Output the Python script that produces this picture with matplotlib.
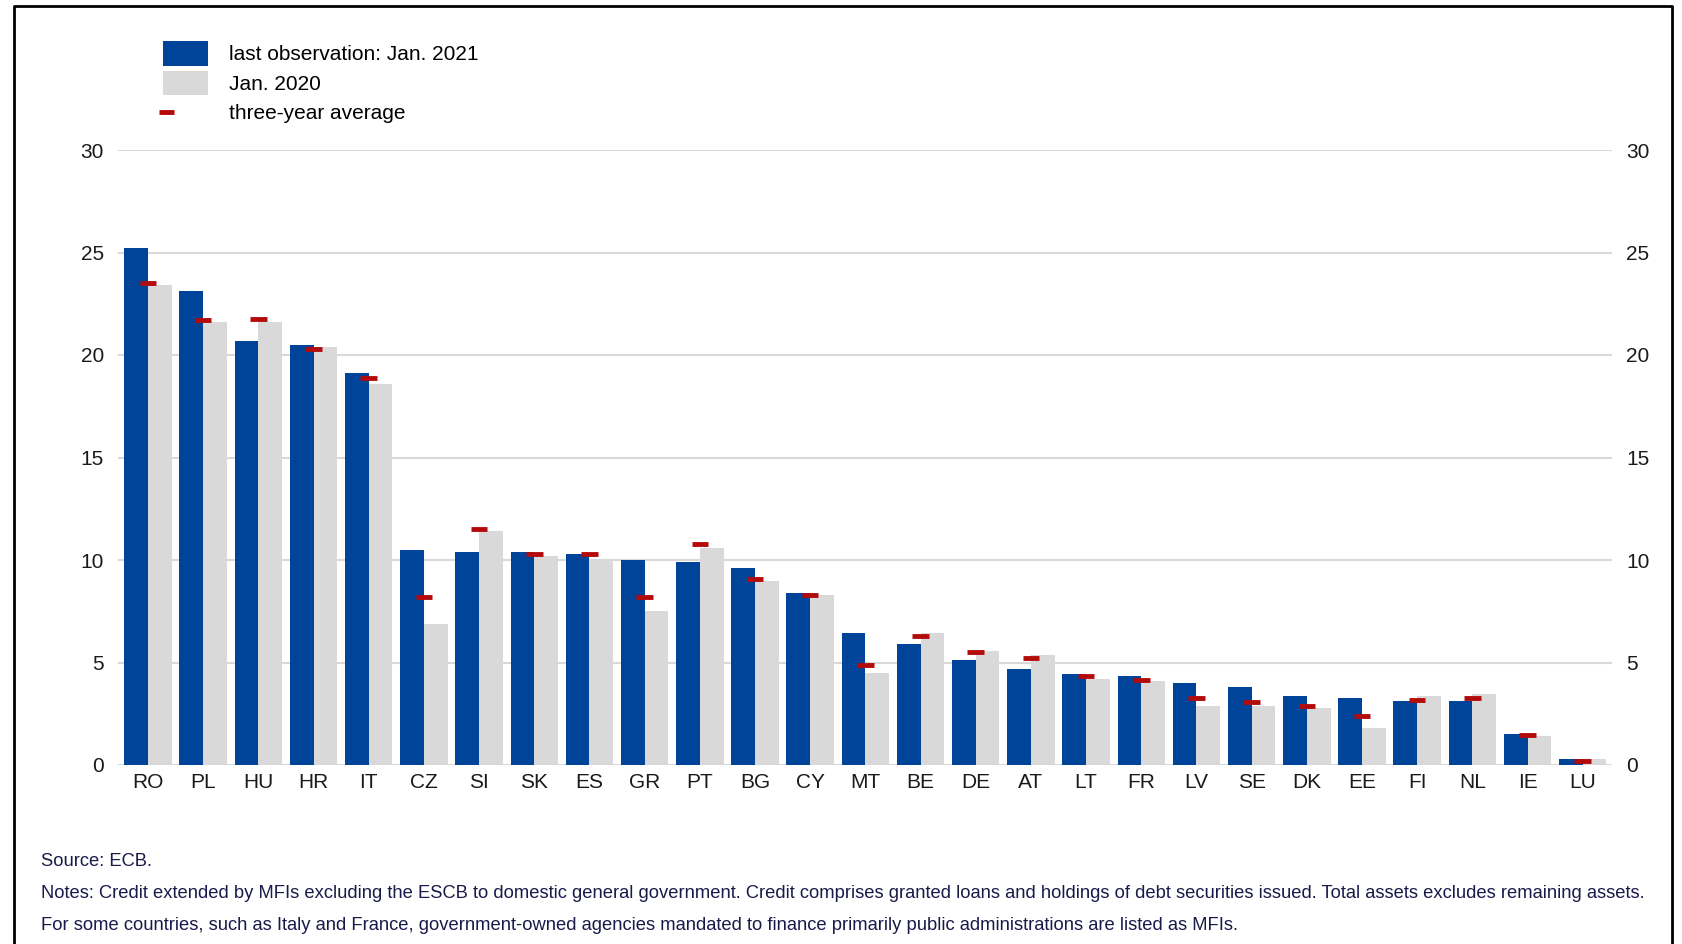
import matplotlib
matplotlib.use("Agg")
import matplotlib.pyplot as plt
from matplotlib.patches import Patch
from matplotlib.lines import Line2D
from matplotlib.legend_handler import HandlerBase
import numpy as np

plt.rcParams['font.family'] = ['Liberation Sans', 'DejaVu Sans']

# credit to government as % of total assets, by country
countries = ["RO", "PL", "HU", "HR", "IT", "CZ", "SI", "SK", "ES", "GR", "PT", "BG", "CY", "MT",
             "BE", "DE", "AT", "LT", "FR", "LV", "SE", "DK", "EE", "FI", "NL", "IE", "LU"]
last_obs = [25.2, 23.1, 20.7, 20.5, 19.1, 10.5, 10.4, 10.4, 10.3, 10.0, 9.9, 9.6, 8.4, 6.45,
            5.9, 5.1, 4.7, 4.45, 4.35, 4.0, 3.8, 3.35, 3.25, 3.1, 3.1, 1.5, 0.3]
jan_2020 = [23.4, 21.6, 21.6, 20.4, 18.6, 6.9, 11.4, 10.2, 10.0, 7.5, 10.6, 9.0, 8.3, 4.5,
            6.45, 5.55, 5.35, 4.2, 4.1, 2.9, 2.9, 2.8, 1.8, 3.35, 3.45, 1.4, 0.3]
three_year_avg = [23.5, 21.7, 21.75, 20.3, 18.9, 8.2, 11.5, 10.3, 10.3, 8.2, 10.8, 9.05, 8.3, 4.9,
                  6.3, 5.5, 5.2, 4.35, 4.15, 3.25, 3.05, 2.9, 2.4, 3.15, 3.25, 1.45, 0.2]
yticks = [0, 5, 10, 15, 20, 25, 30]

blue = "#00449a"
grey = "#d9d9d9"
red = "#b30a0a"


class ShortDash(HandlerBase):
    # short red dash sitting at the left of the legend handle box
    def create_artists(self, legend, orig_handle, xdescent, ydescent, width, height, fontsize, trans):
        y = height / 2 - ydescent
        line = Line2D([-xdescent - 3, -xdescent + 8], [y, y], color=red, linewidth=3.5,
                      solid_capstyle='butt', transform=trans)
        return [line]


fig = plt.figure(figsize=(16.83, 9.44), dpi=100)
ax = fig.add_axes([118 / 1683, 179 / 944, (1612 - 118) / 1683, (765 - 150) / 944])

x = np.arange(len(countries))
w = 0.43
ax.bar(x - w / 2, last_obs, width=w, color=blue, zorder=2)
ax.bar(x + w / 2, jan_2020, width=w, color=grey, zorder=2)
ax.errorbar(x, three_year_avg, xerr=0.15, fmt='none', ecolor=red, elinewidth=3.5, capsize=0, zorder=3)

ax.set_xlim(-0.544, 26.53)
ax.set_ylim(0, 30)
ax.set_yticks(yticks)
ax.set_xticks(x)
ax.set_xticklabels(countries)
ax.grid(axis='y', color=grey, linewidth=1.5, zorder=0)
ax.set_axisbelow(True)
for s in ax.spines.values():
    s.set_visible(False)
ax.tick_params(axis='both', length=0, labelsize=15, colors='#1a1a1a')
ax.tick_params(axis='y', pad=10)
ax.tick_params(axis='x', pad=6)

ax2 = ax.twinx()
ax2.set_ylim(0, 30)
ax2.set_yticks(yticks)
for s in ax2.spines.values():
    s.set_visible(False)
ax2.tick_params(axis='y', length=0, labelsize=15, colors='#1a1a1a', pad=10)

dash = Line2D([], [], color=red)
handles = [Patch(facecolor=blue, edgecolor='none'),
           Patch(facecolor=grey, edgecolor='none'),
           dash]
labels = ["last observation: Jan. 2021", "Jan. 2020", "three-year average"]
leg = fig.legend(handles, labels, loc='upper left', bbox_to_anchor=(163 / 1683, 1 - 41 / 944),
                 frameon=False, fontsize=15, handlelength=2.16, handleheight=1.45,
                 handletextpad=1.0, labelspacing=0.23, borderaxespad=0, borderpad=0,
                 handler_map={dash: ShortDash()})

note_color = '#1a1a4a'
fig.text(41 / 1683, 1 - 861 / 944, "Source: ECB.", fontsize=13.2, color=note_color, va='center')
fig.text(41 / 1683, 1 - 893 / 944,
         "Notes: Credit extended by MFIs excluding the ESCB to domestic general government. "
         "Credit comprises granted loans and holdings of debt securities issued. Total assets excludes remaining assets.",
         fontsize=13.2, color=note_color, va='center')
fig.text(41 / 1683, 1 - 925 / 944,
         "For some countries, such as Italy and France, government-owned agencies mandated to finance "
         "primarily public administrations are listed as MFIs.",
         fontsize=13.2, color=note_color, va='center')

# frame around the chart (bottom edge is cut off)
fig.add_artist(Line2D([14 / 1683, 14 / 1683, 1672 / 1683, 1672 / 1683],
                      [0, 1 - 6 / 944, 1 - 6 / 944, 0], color='black', linewidth=2))

fig.savefig("out.png", dpi=100)
